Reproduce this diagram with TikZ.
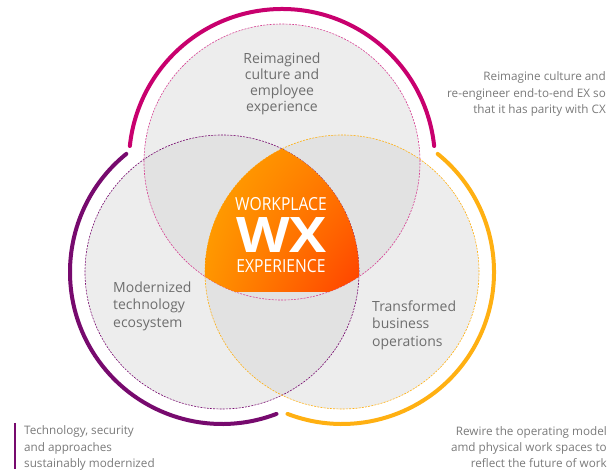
\documentclass[tikz,border=0pt]{standalone}
\usepackage{fontspec}
\setmainfont{Open Sans}
\usetikzlibrary{calc,positioning,shadings}

\definecolor{wxmagenta}{HTML}{C8006E}
\definecolor{wxpurple}{HTML}{770A6E}
\definecolor{wxgold}{HTML}{FFB012}
\definecolor{wxpale}{HTML}{EDEDED}
\definecolor{wxshade}{HTML}{E2E2E2}
\definecolor{wxtext}{HTML}{6E6E6E}
\definecolor{wxnote}{HTML}{7A7A7A}
\definecolor{wxamber}{HTML}{FFA600}
\definecolor{wxtangerine}{HTML}{FF7A00}
\definecolor{wxcarrot}{HTML}{FF9400}
\definecolor{wxred}{HTML}{FF4000}

\begin{document}
\begin{tikzpicture}[x=1pt,y=1pt,
		ring/.style={line width=4pt, line cap=round},
		rim/.style={line width=0.6pt, dash pattern=on 2pt off 1.2pt},
		petal/.style={text=wxtext, font=\fontsize{14}{17.5}\selectfont, inner sep=0pt},
		note/.style={text=wxnote, font=\fontsize{11.7}{16.2}\selectfont, inner sep=0pt},
		core/.style={text=white, inner sep=0pt, xscale=0.87, font=\fontsize{18}{18}\selectfont}
		]
		\useasboundingbox (0,0) rectangle (609,469);
	
		% centres of the three circles
		\coordinate (ctop) at (282,307);
		\coordinate (cleft) at (222,197);
		\coordinate (cright) at (342,197);
	
		% grey discs, darker where two of them meet
		\fill[wxpale] (ctop) circle[radius=138pt] (cleft) circle[radius=137pt] (cright) circle[radius=137pt];
		\begin{scope}
			\clip (ctop) circle[radius=138pt];
			\fill[wxshade] (cleft) circle[radius=137pt] (cright) circle[radius=137pt];
		\end{scope}
		\begin{scope}
			\clip (cleft) circle[radius=137pt];
			\fill[wxshade] (cright) circle[radius=137pt];
		\end{scope}
	
		% dashed rims
		\draw[rim, wxmagenta!75] (ctop) circle[radius=138pt];
		\draw[rim, wxpurple] (cleft) circle[radius=137pt];
		\draw[rim, wxgold] (cright) circle[radius=137pt];
	
		% orange core where all three meet
		\begin{scope}
			\clip (ctop) circle[radius=138pt];
			\clip (cleft) circle[radius=137pt];
			\clip (cright) circle[radius=137pt];
			\shade[upper left=wxamber, upper right=wxtangerine,
				lower left=wxcarrot, lower right=wxred]
				(205,178) rectangle (361,322);
		\end{scope}
	
		% thick outer arcs
		\draw[ring, wxmagenta] ([shift={(6:153pt)}]ctop) arc[start angle=6, end angle=174, radius=153pt];
		\draw[ring, wxpurple] ([shift={(129:152pt)}]cleft) arc[start angle=129, end angle=291, radius=152pt];
		\draw[ring, wxgold] ([shift={(51:152pt)}]cright) arc[start angle=51, end angle=-111, radius=152pt];
	
		% circle labels
		\node[petal, align=center, font=\fontsize{14}{16.2}\selectfont] (culture) at (282,385) {Reimagined\\culture and\\employee\\experience};
		\node[petal, align=left, anchor=west] (tech) at (113,163) {Modernized\\technology\\ecosystem};
		\node[petal, align=left, anchor=west] (ops) at (372,144) {Transformed\\business\\operations};
	
		\node[core] (work) at (281,264.5) {WORKPLACE};
		\node[core, xscale=1.3, font=\bfseries\fontsize{49}{49}\selectfont] (wx) at (281.5,233.5) {WX};
		\node[core] (exp) at (281,202.5) {EXPERIENCE};
	
		% side notes
		\node[note, align=right, anchor=east] (culturenote) at (606,375) {Reimagine culture and\\re-engineer end-to-end EX so\\that it has parity with CX};
		\node[note, align=right, anchor=east] (opsnote) at (607,22) {Rewire the operating model\\amd physical work spaces to\\reflect the future of work};
		\node[note, align=left, anchor=west] (technote) at (24,21) {Technology, security\\and approaches\\sustainably modernized};
		\draw[wxpurple, line width=2.5pt] ([xshift=-9pt,yshift=3pt]technote.north west) -- ([xshift=-9pt]technote.west |- 0,0);
	\end{tikzpicture}
\end{document}
